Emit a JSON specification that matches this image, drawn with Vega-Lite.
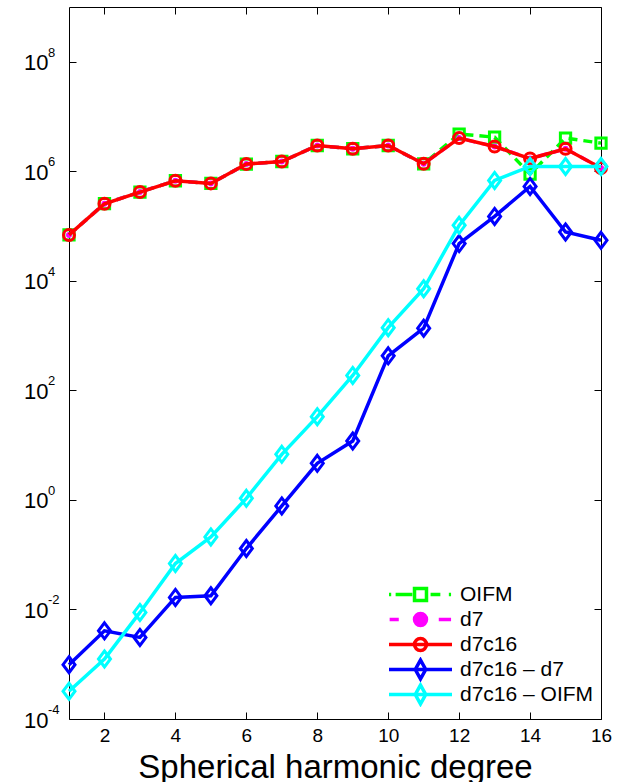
{
  "$schema": "https://vega.github.io/schema/vega-lite/v6.json",
  "width": 532,
  "height": 712,
  "autosize": {"type": "none"},
  "padding": {"left": 69, "top": 7, "right": 16, "bottom": 63},
  "background": "white",
  "config": {
    "view": {"stroke": null},
    "font": "Liberation Sans",
    "axis": {"grid": false, "domainColor": "#000", "domainWidth": 1, "tickColor": "#000", "tickWidth": 1, "labelColor": "#000", "titleColor": "#000", "labelFont": "Liberation Sans", "titleFont": "Liberation Sans", "labelOverlap": false, "labelFlush": false, "labelBound": false}
  },
  "data": {"values": [
    {"deg": 1, "series": "OIFM", "value": 6.89e4},
    {"deg": 2, "series": "OIFM", "value": 2.56e5},
    {"deg": 3, "series": "OIFM", "value": 4.18e5},
    {"deg": 4, "series": "OIFM", "value": 6.73e5},
    {"deg": 5, "series": "OIFM", "value": 6.01e5},
    {"deg": 6, "series": "OIFM", "value": 1.355e6},
    {"deg": 7, "series": "OIFM", "value": 1.51e6},
    {"deg": 8, "series": "OIFM", "value": 2.96e6},
    {"deg": 9, "series": "OIFM", "value": 2.58e6},
    {"deg": 10, "series": "OIFM", "value": 2.96e6},
    {"deg": 11, "series": "OIFM", "value": 1.37e6},
    {"deg": 12, "series": "OIFM", "value": 4.78e6},
    {"deg": 13, "series": "OIFM", "value": 4.2e6},
    {"deg": 14, "series": "OIFM", "value": 8.9e5},
    {"deg": 15, "series": "OIFM", "value": 4.04e6},
    {"deg": 16, "series": "OIFM", "value": 3.27e6},
    {"deg": 1, "series": "d7", "value": 6.89e4},
    {"deg": 2, "series": "d7", "value": 2.56e5},
    {"deg": 3, "series": "d7", "value": 4.18e5},
    {"deg": 4, "series": "d7", "value": 6.73e5},
    {"deg": 5, "series": "d7", "value": 6.01e5},
    {"deg": 6, "series": "d7", "value": 1.355e6},
    {"deg": 7, "series": "d7", "value": 1.51e6},
    {"deg": 8, "series": "d7", "value": 2.96e6},
    {"deg": 9, "series": "d7", "value": 2.58e6},
    {"deg": 10, "series": "d7", "value": 2.96e6},
    {"deg": 11, "series": "d7", "value": 1.37e6},
    {"deg": 12, "series": "d7", "value": 4.04e6},
    {"deg": 13, "series": "d7", "value": 2.84e6},
    {"deg": 14, "series": "d7", "value": 1.71e6},
    {"deg": 15, "series": "d7", "value": 2.58e6},
    {"deg": 16, "series": "d7", "value": 1.15e6},
    {"deg": 1, "series": "d7c16", "value": 6.89e4},
    {"deg": 2, "series": "d7c16", "value": 2.56e5},
    {"deg": 3, "series": "d7c16", "value": 4.18e5},
    {"deg": 4, "series": "d7c16", "value": 6.73e5},
    {"deg": 5, "series": "d7c16", "value": 6.01e5},
    {"deg": 6, "series": "d7c16", "value": 1.355e6},
    {"deg": 7, "series": "d7c16", "value": 1.51e6},
    {"deg": 8, "series": "d7c16", "value": 2.96e6},
    {"deg": 9, "series": "d7c16", "value": 2.58e6},
    {"deg": 10, "series": "d7c16", "value": 2.96e6},
    {"deg": 11, "series": "d7c16", "value": 1.37e6},
    {"deg": 12, "series": "d7c16", "value": 4.04e6},
    {"deg": 13, "series": "d7c16", "value": 2.84e6},
    {"deg": 14, "series": "d7c16", "value": 1.71e6},
    {"deg": 15, "series": "d7c16", "value": 2.58e6},
    {"deg": 16, "series": "d7c16", "value": 1.15e6},
    {"deg": 1, "series": "d7c16 – d7", "value": 9.8e-4},
    {"deg": 2, "series": "d7c16 – d7", "value": 4.08e-3},
    {"deg": 3, "series": "d7c16 – d7", "value": 3.09e-3},
    {"deg": 4, "series": "d7c16 – d7", "value": 1.66e-2},
    {"deg": 5, "series": "d7c16 – d7", "value": 1.78e-2},
    {"deg": 6, "series": "d7c16 – d7", "value": 0.1297},
    {"deg": 7, "series": "d7c16 – d7", "value": 0.776},
    {"deg": 8, "series": "d7c16 – d7", "value": 4.66},
    {"deg": 9, "series": "d7c16 – d7", "value": 11.9},
    {"deg": 10, "series": "d7c16 – d7", "value": 427},
    {"deg": 11, "series": "d7c16 – d7", "value": 1368},
    {"deg": 12, "series": "d7c16 – d7", "value": 4.79e4},
    {"deg": 13, "series": "d7c16 – d7", "value": 1.503e5},
    {"deg": 14, "series": "d7c16 – d7", "value": 5.3e5},
    {"deg": 15, "series": "d7c16 – d7", "value": 7.8e4},
    {"deg": 16, "series": "d7c16 – d7", "value": 5.5e4},
    {"deg": 1, "series": "d7c16 – OIFM", "value": 3.21e-4},
    {"deg": 2, "series": "d7c16 – OIFM", "value": 1.245e-3},
    {"deg": 3, "series": "d7c16 – OIFM", "value": 8.83e-3},
    {"deg": 4, "series": "d7c16 – OIFM", "value": 6.9e-2},
    {"deg": 5, "series": "d7c16 – OIFM", "value": 0.211},
    {"deg": 6, "series": "d7c16 – OIFM", "value": 1.07},
    {"deg": 7, "series": "d7c16 – OIFM", "value": 6.79},
    {"deg": 8, "series": "d7c16 – OIFM", "value": 33.1},
    {"deg": 9, "series": "d7c16 – OIFM", "value": 187.5},
    {"deg": 10, "series": "d7c16 – OIFM", "value": 1396},
    {"deg": 11, "series": "d7c16 – OIFM", "value": 7178},
    {"deg": 12, "series": "d7c16 – OIFM", "value": 1.03e5},
    {"deg": 13, "series": "d7c16 – OIFM", "value": 6.81e5},
    {"deg": 14, "series": "d7c16 – OIFM", "value": 1.225e6},
    {"deg": 15, "series": "d7c16 – OIFM", "value": 1.225e6},
    {"deg": 16, "series": "d7c16 – OIFM", "value": 1.225e6}
  ]},
  "layer": [
    {
      "transform": [{"filter": "datum.series === 'OIFM'"}],
      "mark": {"type": "line", "color": "#00ff00", "strokeWidth": 3.5, "strokeDash": [9, 6], "point": {"filled": false, "shape": "square", "size": 106, "strokeWidth": 3, "color": "#00ff00"}},
      "encoding": {
        "x": {"field": "deg", "type": "quantitative", "scale": {"domain": [1, 16], "nice": false, "zero": false},
          "axis": {"orient": "bottom", "values": [2, 4, 6, 8, 10, 12, 14, 16], "tickSize": -7, "labelFontSize": 19, "labelPadding": 14, "title": "Spherical harmonic degree", "titleFontSize": 33, "titleFontWeight": "normal", "titleY": 58, "titleBaseline": "alphabetic"}},
        "y": {"field": "value", "type": "quantitative", "scale": {"type": "log", "domain": [1e-4, 1e9], "nice": false},
          "axis": {"orient": "left", "values": [1e-4, 1e-2, 1, 100, 1e4, 1e6, 1e8], "tickSize": -7, "labelExpr": "'10'", "labelFontSize": 22, "labelAlign": "left", "labelBaseline": "middle", "labelPadding": 52.5, "labelOffset": 1, "title": null}}
      }
    },
    {
      "transform": [{"filter": "datum.series === 'd7'"}],
      "mark": {"type": "line", "color": "#ff00ff", "strokeWidth": 3.5, "strokeDash": [9, 6], "point": {"filled": true, "shape": "circle", "size": 36, "color": "#ff00ff"}},
      "encoding": {
        "x": {"field": "deg", "type": "quantitative",
          "axis": {"orient": "top", "values": [2, 4, 6, 8, 10, 12, 14, 16], "tickSize": -7, "labels": false, "title": null}},
        "y": {"field": "value", "type": "quantitative",
          "axis": {"orient": "right", "values": [1e-4, 1e-2, 1, 100, 1e4, 1e6, 1e8], "tickSize": -7, "labelExpr": "'' + round(log(datum.value) / LN10)", "labelFontSize": 13, "labelAlign": "left", "labelBaseline": "middle", "labelPadding": -546.5, "labelOffset": -9.5, "title": null}}
      }
    },
    {
      "transform": [{"filter": "datum.series === 'd7c16'"}],
      "mark": {"type": "line", "strokeWidth": 3.5, "point": {"filled": false, "shape": "circle", "size": 121, "strokeWidth": 3}},
      "encoding": {
        "x": {"field": "deg", "type": "quantitative", "axis": null},
        "y": {"field": "value", "type": "quantitative", "axis": null},
        "color": {"field": "series", "type": "nominal",
          "scale": {"domain": ["OIFM", "d7", "d7c16", "d7c16 – d7", "d7c16 – OIFM"], "range": ["#00ff00", "#ff00ff", "#ff0000", "#0000ff", "#00ffff"]},
          "legend": {"orient": "none", "legendX": 316, "legendY": 575, "title": null, "padding": 0, "labelFontSize": 21, "labelFont": "Liberation Sans", "labelColor": "#000", "symbolSize": 441, "symbolOffset": 23, "labelOffset": 27, "rowPadding": 0, "clipHeight": 25,
            "encode": {"symbols": {"update": {
              "shape": {"signal": "datum.value === 'OIFM' ? 'M-3,0H-2.79M-2.37,0H-0.78M0.96,0H1.89M2.7,0H2.91M-0.57,-0.57H0.57V0.57H-0.57Z' : datum.value === 'd7' ? 'M-2.94,0H-2.07M1.74,0H2.91M-0.57,0A0.57,0.57,0,1,0,0.57,0A0.57,0.57,0,1,0,-0.57,0Z' : datum.value === 'd7c16' ? 'M-3,0H3M-0.57,0A0.57,0.57,0,1,0,0.57,0A0.57,0.57,0,1,0,-0.57,0Z' : 'M-3,0H3M0,-0.9L0.5,0L0,0.9L-0.5,0Z'"},
              "fill": {"signal": "datum.value === 'd7' ? '#ff00ff' : 'transparent'"},
              "strokeWidth": {"value": 3.5},
              "strokeDash": {"value": []},
              "opacity": {"value": 1}
            }}}}
        }
      }
    },
    {
      "transform": [{"filter": "datum.series === 'd7c16 – d7'"}],
      "mark": {"type": "line", "color": "#0000ff", "strokeWidth": 3.5, "point": {"filled": false, "shape": "M0,-1L0.75,0L0,1L-0.75,0Z", "size": 256, "strokeWidth": 3, "color": "#0000ff"}},
      "encoding": {
        "x": {"field": "deg", "type": "quantitative", "axis": null},
        "y": {"field": "value", "type": "quantitative", "axis": null}
      }
    },
    {
      "transform": [{"filter": "datum.series === 'd7c16 – OIFM'"}],
      "mark": {"type": "line", "color": "#00ffff", "strokeWidth": 3.5, "point": {"filled": false, "shape": "M0,-1L0.75,0L0,1L-0.75,0Z", "size": 256, "strokeWidth": 3, "color": "#00ffff"}},
      "encoding": {
        "x": {"field": "deg", "type": "quantitative", "axis": null},
        "y": {"field": "value", "type": "quantitative", "axis": null}
      }
    }
  ],
  "resolve": {"axis": {"x": "independent", "y": "independent"}}
}
